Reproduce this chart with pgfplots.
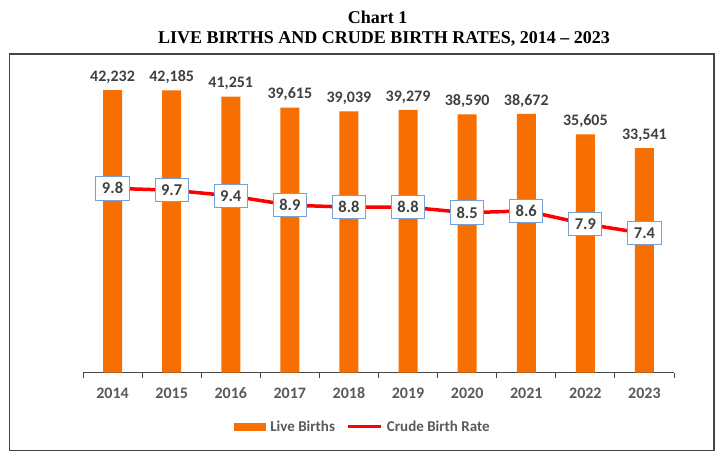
\documentclass[border=0pt]{standalone}
\usepackage{fontspec}
\setmainfont{Carlito}
\newfontfamily\titlefont[Ligatures=TeX]{Liberation Serif}
\usepackage{pgfplots}
\pgfplotsset{compat=1.18}
\definecolor{barorange}{RGB}{247,111,0}
\definecolor{linered}{RGB}{255,0,0}
\definecolor{boxblue}{RGB}{120,160,215}
\definecolor{txtgray}{RGB}{89,89,89}
\definecolor{lblgray}{RGB}{64,64,64}
\definecolor{framegray}{RGB}{70,70,70}
\begin{document}
\begin{tikzpicture}[x=1pt,y=1pt]
\useasboundingbox (0,0) rectangle (727,-456);
\node[font=\titlefont\bfseries\fontsize{18}{21}\selectfont, inner sep=0pt] at (377.5,-17.5) {Chart 1};
\node[font=\titlefont\bfseries\fontsize{18}{21}\selectfont, inner sep=0pt] at (384,-38.5) {LIVE BIRTHS AND CRUDE BIRTH RATES, 2014 – 2023};
\draw[framegray, line width=1.2pt] (9.5,-54) rectangle (714,-450.5);
\begin{axis}[
  at={(83pt,-372.5pt)}, anchor=south west,
  scale only axis, width=591pt, height=300pt,
  xmin=-0.5, xmax=9.5, ymin=0, ymax=44863,
  enlargelimits=false,
  axis y line=none, axis x line*=bottom,
  x axis line style={-, framegray, line width=1pt},
  xtick={0,...,9},
  xticklabels={2014,2015,2016,2017,2018,2019,2020,2021,2022,2023},
  major tick length=0pt,
  minor xtick={-0.5,0.5,...,9.5},
  minor tick length=5pt,
  tick align=outside,
  minor tick style={framegray, line width=1pt},
  xticklabel style={font=\bfseries\fontsize{16}{19}\selectfont, text=txtgray,
    anchor=north, text height=11pt, text depth=0pt, yshift=-11pt},
  legend style={at={(0.4755,-0.18)}, anchor=center, draw=none, fill=none,
    legend columns=2, font=\bfseries\fontsize{15}{18}\selectfont, text=txtgray,
    nodes={inner xsep=4pt},
    /tikz/every even column/.append style={column sep=8pt}},
  legend cell align=left,
]
\addplot[ybar, bar width=19pt, fill=barorange, draw=none,
  nodes near coords={\pgfmathprintnumber[fixed,precision=0,1000 sep={,},assume math mode=true]{\pgfplotspointmeta}},
  every node near coord/.append style={font=\bfseries\fontsize{16}{19}\selectfont, text=lblgray, yshift=3pt},
  legend image code/.code={\fill[barorange] (0pt,-4pt) rectangle (32pt,4pt);}
] coordinates {
  (0,42232) (1,42185) (2,41251) (3,39615) (4,39039)
  (5,39279) (6,38590) (7,38672) (8,35605) (9,33541)
};
\addlegendentry{Live Births}
\addlegendimage{legend image code/.code={\draw[linered, line width=3pt] (0pt,0pt) -- (33pt,0pt);}}
\addlegendentry{Crude Birth Rate}
\end{axis}
\begin{axis}[
  at={(83pt,-372.5pt)}, anchor=south west,
  scale only axis, width=591pt, height=300pt,
  xmin=-0.5, xmax=9.5, ymin=0, ymax=15.96,
  enlargelimits=false,
  hide axis,
]
\addplot[linered, line width=3.5pt, mark=none,
  nodes near coords={\pgfmathprintnumber[fixed,fixed zerofill,precision=1,assume math mode=true]{\pgfplotspointmeta}},
  every node near coord/.append style={anchor=center, draw=boxblue, fill=white, line width=1pt,
    inner xsep=6pt, inner ysep=6pt, font=\bfseries\fontsize{16.5}{19}\selectfont, text=lblgray}
] coordinates {
  (0,9.8) (1,9.7) (2,9.4) (3,8.9) (4,8.8)
  (5,8.8) (6,8.5) (7,8.6) (8,7.9) (9,7.4)
};
\end{axis}
\end{tikzpicture}
\end{document}
